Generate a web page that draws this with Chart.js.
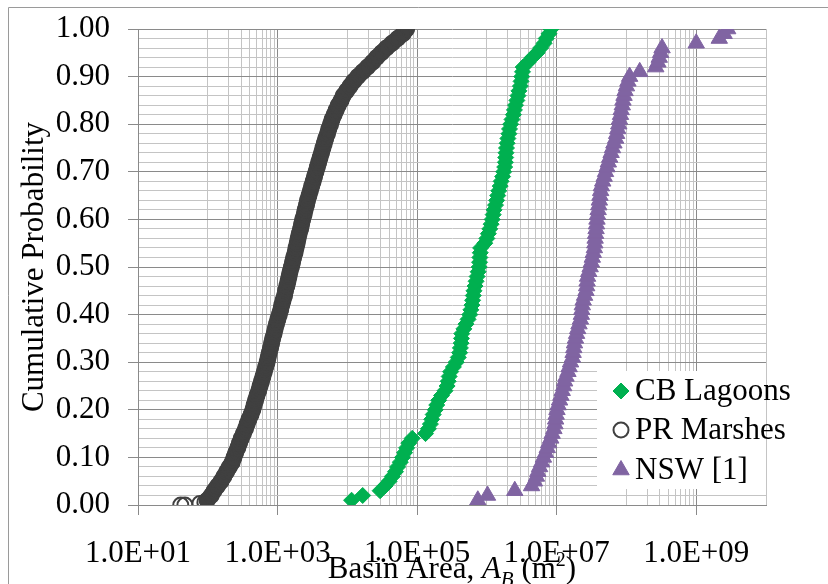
<!DOCTYPE html>
<html>
<head>
<meta charset="utf-8">
<title>Basin area distributions</title>
<script src="https://cdn.jsdelivr.net/npm/chart.js@4.4.0/dist/chart.umd.min.js"></script>
<style>
  html, body { margin: 0; padding: 0; background: #ffffff; }
  #wrap { position: relative; width: 828px; height: 584px; }
</style>
</head>
<body>
<div id="wrap"><canvas id="cdfChart"></canvas></div>
<script>
// basin areas (m2) against cumulative probability for each group of basins
var seriesNames = ['CB Lagoons', 'PR Marshes', 'NSW [1]'];

var cbArea = [11500, 16600, 29500, 34700, 39800, 44200, 49000, 52500, 57500, 61700,
  66100, 70800, 75900, 85100, 132000, 145000, 155000, 162000, 170000, 182000,
  191000, 204000, 224000, 251000, 269000, 279000, 288000, 302000, 331000, 363000,
  389000, 407000, 417000, 427000, 432000, 437000, 468000, 501000, 537000, 569000,
  589000, 610000, 624000, 638000, 653000, 676000, 700000, 724000, 750000, 776000,
  785000, 794000, 804000, 813000, 933000, 1.00e6, 1.05e6, 1.10e6, 1.15e6, 1.19e6,
  1.23e6, 1.27e6, 1.33e6, 1.38e6, 1.43e6, 1.48e6, 1.55e6, 1.60e6, 1.68e6, 1.74e6,
  1.80e6, 1.84e6, 1.86e6, 1.88e6, 1.91e6, 1.95e6, 2.00e6, 2.07e6, 2.11e6, 2.19e6,
  2.29e6, 2.40e6, 2.48e6, 2.57e6, 2.69e6, 2.79e6, 2.88e6, 3.02e6, 3.09e6, 3.16e6,
  3.24e6, 3.31e6, 3.89e6, 4.47e6, 5.25e6, 5.89e6, 6.61e6, 7.08e6, 7.76e6, 8.32e6];

var prArea = [41, 47, 77, 91,
  98, 112, 123, 138, 155, 170, 186, 204, 224, 237,
  251, 269, 285, 302, 324, 347, 367, 389, 417, 442,
  462, 484, 507, 537, 562, 589, 617, 646, 676, 708,
  733, 759, 794, 822, 851, 891, 923, 966, 1010, 1060,
  1110, 1150, 1200, 1260, 1300, 1360, 1410, 1460, 1510, 1580,
  1640, 1700, 1780, 1840, 1910, 1970, 2040, 2140, 2210, 2290,
  2400, 2480, 2600, 2690, 2820, 2950, 3090, 3240, 3390, 3550,
  3720, 3890, 4070, 4270, 4470, 4680, 4900, 5190, 5430, 5750,
  6030, 6460, 6920, 7410, 8130, 8710, 9770, 10960, 12300, 14130,
  16600, 19500, 22900, 26300, 30900, 36300, 43700, 52500, 63100, 70800];

var nswArea = [741000, 1.02e6, 2.51e6, 4.37e6, 4.79e6, 5.13e6, 5.37e6, 5.69e6, 6.10e6, 6.46e6,
  6.92e6, 7.33e6, 7.67e6, 8.22e6, 8.61e6, 9.12e6, 9.44e6, 9.66e6, 9.84e6, 1.01e7,
  1.05e7, 1.10e7, 1.15e7, 1.20e7, 1.26e7, 1.30e7, 1.36e7, 1.45e7, 1.51e7, 1.58e7,
  1.68e7, 1.72e7, 1.76e7, 1.80e7, 1.86e7, 1.93e7, 2.00e7, 2.09e7, 2.19e7, 2.26e7,
  2.29e7, 2.33e7, 2.40e7, 2.51e7, 2.63e7, 2.69e7, 2.73e7, 2.77e7, 2.88e7, 3.02e7,
  3.14e7, 3.24e7, 3.35e7, 3.47e7, 3.52e7, 3.56e7, 3.61e7, 3.67e7, 3.72e7, 3.78e7,
  3.85e7, 3.93e7, 4.01e7, 4.09e7, 4.17e7, 4.27e7, 4.37e7, 4.57e7, 4.79e7, 5.01e7,
  5.25e7, 5.50e7, 5.75e7, 6.03e7, 6.31e7, 6.61e7, 7.00e7, 7.24e7, 7.50e7, 7.76e7,
  7.94e7, 8.22e7, 8.41e7, 8.71e7, 8.91e7, 9.23e7, 9.55e7, 1.00e8, 1.05e8, 1.11e8,
  1.55e8, 2.63e8, 2.82e8, 2.95e8, 3.09e8, 3.24e8, 1.00e9, 2.14e9, 2.51e9, 2.82e9];

// cumulative probability of each sorted basin (CB and NSW have the same count)
var rankProb = [0.01, 0.02, 0.03, 0.04, 0.05, 0.06, 0.07, 0.08, 0.09, 0.10,
  0.11, 0.12, 0.13, 0.14, 0.15, 0.16, 0.17, 0.18, 0.19, 0.20,
  0.21, 0.22, 0.23, 0.24, 0.25, 0.26, 0.27, 0.28, 0.29, 0.30,
  0.31, 0.32, 0.33, 0.34, 0.35, 0.36, 0.37, 0.38, 0.39, 0.40,
  0.41, 0.42, 0.43, 0.44, 0.45, 0.46, 0.47, 0.48, 0.49, 0.50,
  0.51, 0.52, 0.53, 0.54, 0.55, 0.56, 0.57, 0.58, 0.59, 0.60,
  0.61, 0.62, 0.63, 0.64, 0.65, 0.66, 0.67, 0.68, 0.69, 0.70,
  0.71, 0.72, 0.73, 0.74, 0.75, 0.76, 0.77, 0.78, 0.79, 0.80,
  0.81, 0.82, 0.83, 0.84, 0.85, 0.86, 0.87, 0.88, 0.89, 0.90,
  0.91, 0.92, 0.93, 0.94, 0.95, 0.96, 0.97, 0.98, 0.99, 1.00];

var prProb = [0, 0, 0.003, 0.006,
  0.01, 0.02, 0.03, 0.04, 0.05, 0.06, 0.07, 0.08, 0.09, 0.10,
  0.11, 0.12, 0.13, 0.14, 0.15, 0.16, 0.17, 0.18, 0.19, 0.20,
  0.21, 0.22, 0.23, 0.24, 0.25, 0.26, 0.27, 0.28, 0.29, 0.30,
  0.31, 0.32, 0.33, 0.34, 0.35, 0.36, 0.37, 0.38, 0.39, 0.40,
  0.41, 0.42, 0.43, 0.44, 0.45, 0.46, 0.47, 0.48, 0.49, 0.50,
  0.51, 0.52, 0.53, 0.54, 0.55, 0.56, 0.57, 0.58, 0.59, 0.60,
  0.61, 0.62, 0.63, 0.64, 0.65, 0.66, 0.67, 0.68, 0.69, 0.70,
  0.71, 0.72, 0.73, 0.74, 0.75, 0.76, 0.77, 0.78, 0.79, 0.80,
  0.81, 0.82, 0.83, 0.84, 0.85, 0.86, 0.87, 0.88, 0.89, 0.90,
  0.91, 0.92, 0.93, 0.94, 0.95, 0.96, 0.97, 0.98, 0.99, 1.00];

var xTickValues = [1e1, 1e3, 1e5, 1e7, 1e9];
var xTickLabels = ['1.0E+01', '1.0E+03', '1.0E+05', '1.0E+07', '1.0E+09'];
var yTickValues = [0, 0.1, 0.2, 0.3, 0.4, 0.5, 0.6, 0.7, 0.8, 0.9, 1];
var yTickLabels = ['0.00', '0.10', '0.20', '0.30', '0.40', '0.50', '0.60', '0.70', '0.80', '0.90', '1.00'];

var FONT = '"Liberation Serif", "Times New Roman", serif';
var majorGrid = '#8a8a8a';
var minorGrid = '#c4c4c4';
var prColor = '#404040';

function points(xs, ys) {
  return xs.map(function (x, i) { return { x: x, y: ys[i] }; });
}

// major decades every 100x, minor lines 1..9 x the decade in between
var xGrid = [];
xTickValues.forEach(function (v) {
  xGrid.push({ value: v, major: true });
  for (var m = 1; m <= 9; m++) {
    if (m * v * 10 <= 1e10) xGrid.push({ value: m * v * 10, major: false });
  }
});
var yGrid = [];
for (var i = 0; i <= 50; i++) yGrid.push({ value: i / 50, major: i % 5 === 0 });

// keep the plot box where the layout padding puts it
function noLabelOverflow(scale) {
  scale.paddingTop = 0;
  scale.paddingBottom = 0;
  scale.paddingLeft = 0;
  scale.paddingRight = 0;
}

var overlay = {
  id: 'overlay',
  afterDraw: function (chart) {
    var ctx = chart.ctx;
    var area = chart.chartArea;
    ctx.save();

    // outer frame
    ctx.strokeStyle = '#9a9a9a';
    ctx.lineWidth = 1;
    ctx.beginPath();
    ctx.moveTo(8.5, 584);
    ctx.lineTo(8.5, 7.5);
    ctx.lineTo(828, 7.5);
    ctx.stroke();

    ctx.fillStyle = '#000000';

    // y axis title
    ctx.save();
    ctx.translate(43, (area.top + area.bottom) / 2);
    ctx.rotate(-Math.PI / 2);
    ctx.font = '31px ' + FONT;
    ctx.textAlign = 'center';
    ctx.textBaseline = 'alphabetic';
    ctx.fillText('Cumulative Probability', 0, 0);
    ctx.restore();

    // x axis title with italic subscript and superscript
    var parts = [
      { t: 'Basin Area, ', f: '31px ' + FONT, dy: 0 },
      { t: 'A', f: 'italic 31px ' + FONT, dy: 0 },
      { t: 'B', f: 'italic 21px ' + FONT, dy: 8 },
      { t: ' (m', f: '31px ' + FONT, dy: 0 },
      { t: '2', f: '20px ' + FONT, dy: -12 },
      { t: ')', f: '31px ' + FONT, dy: 0 }
    ];
    var total = 0;
    parts.forEach(function (p) { ctx.font = p.f; p.w = ctx.measureText(p.t).width; total += p.w; });
    var x = (area.left + area.right) / 2 - total / 2;
    ctx.textAlign = 'left';
    ctx.textBaseline = 'alphabetic';
    parts.forEach(function (p) {
      ctx.font = p.f;
      ctx.fillText(p.t, x, 578 + p.dy);
      x += p.w;
    });

    // legend box in the lower right of the plot
    ctx.fillStyle = '#ffffff';
    ctx.fillRect(597, 371, area.right - 597, 118);
    var rows = [391, 430, 470];
    chart.data.datasets.filter(function (ds) { return ds.label; }).forEach(function (ds, k) {
      ctx.save();
      ctx.fillStyle = ds.pointBackgroundColor;
      ctx.strokeStyle = ds.pointBorderColor;
      ctx.lineWidth = ds.pointBorderWidth;
      Chart.helpers.drawPoint(ctx, {
        pointStyle: ds.pointStyle,
        radius: ds.pointRadius,
        borderWidth: ds.pointBorderWidth,
        rotation: 0
      }, 621, rows[k]);
      ctx.restore();
      ctx.fillStyle = '#000000';
      ctx.font = '31px ' + FONT;
      ctx.textAlign = 'left';
      ctx.textBaseline = 'middle';
      ctx.fillText(ds.label, 635, rows[k] + 1);
    });

    ctx.restore();
  }
};

var ctx = document.getElementById('cdfChart').getContext('2d');

var myChart = new Chart(ctx, {
  type: 'scatter',
  data: {
    datasets: [{
      label: seriesNames[0],
      data: points(cbArea, rankProb),
      pointStyle: 'rectRot',
      pointRadius: 8,
      pointBorderWidth: 1,
      pointBackgroundColor: '#00b050',
      pointBorderColor: '#00b050'
    }, {
      label: seriesNames[1],
      data: points(prArea, prProb),
      pointStyle: 'circle',
      pointRadius: 7.5,
      pointBorderWidth: 2,
      pointBackgroundColor: 'rgba(0,0,0,0)',
      pointBorderColor: prColor
    }, {
      label: seriesNames[2],
      data: points(nswArea, rankProb),
      pointStyle: 'triangle',
      pointRadius: 9.5,
      pointBorderWidth: 1,
      pointBackgroundColor: '#8064a2',
      pointBorderColor: '#8064a2'
    }, {
      // the marsh markers sit so close that they merge into one dark band
      data: points(prArea.slice(4), prProb.slice(4)),
      showLine: true,
      pointRadius: 0,
      borderColor: prColor,
      borderWidth: 16,
      borderCapStyle: 'round',
      borderJoinStyle: 'round',
      tension: 0
    }]
  },
  options: {
    responsive: true,
    maintainAspectRatio: false,
    animation: false,
    events: [],
    layout: { autoPadding: false, padding: { left: 0, right: 62, top: 29, bottom: 0 } },
    plugins: {
      legend: { display: false },
      tooltip: { enabled: false }
    },
    scales: {
      x: {
        type: 'logarithmic',
        min: 1e1,
        max: 1e10,
        afterBuildTicks: function (scale) {
          scale.ticks = xGrid.map(function (t) { return { value: t.value, major: t.major }; });
        },
        afterFit: function (scale) { scale.height = 79; noLabelOverflow(scale); },
        border: { display: true, color: majorGrid, width: 1 },
        grid: {
          color: function (c) { return c.tick && c.tick.major ? majorGrid : minorGrid; },
          tickColor: function (c) { return c.tick && c.tick.major ? majorGrid : 'rgba(0,0,0,0)'; },
          tickLength: 10,
          lineWidth: 1
        },
        ticks: {
          autoSkip: false,
          maxRotation: 0,
          minRotation: 0,
          padding: 20,
          color: '#000000',
          font: { family: FONT, size: 31 },
          callback: function (value) {
            var k = xTickValues.indexOf(value);
            return k >= 0 ? xTickLabels[k] : '';
          }
        }
      },
      y: {
        type: 'linear',
        min: 0,
        max: 1,
        afterBuildTicks: function (scale) {
          scale.ticks = yGrid.map(function (t) { return { value: t.value, major: t.major }; });
        },
        afterFit: function (scale) { scale.width = 138; noLabelOverflow(scale); },
        border: { display: true, color: majorGrid, width: 1 },
        grid: {
          color: function (c) { return c.tick && c.tick.major ? majorGrid : minorGrid; },
          tickColor: function (c) { return c.tick && c.tick.major ? majorGrid : 'rgba(0,0,0,0)'; },
          tickLength: 10,
          lineWidth: 1
        },
        ticks: {
          autoSkip: false,
          padding: 18,
          color: '#000000',
          font: { family: FONT, size: 31 },
          callback: function (value) {
            var k = yTickValues.indexOf(value);
            return k >= 0 ? yTickLabels[k] : '';
          }
        }
      }
    }
  },
  plugins: [overlay]
});
</script>
</body>
</html>
